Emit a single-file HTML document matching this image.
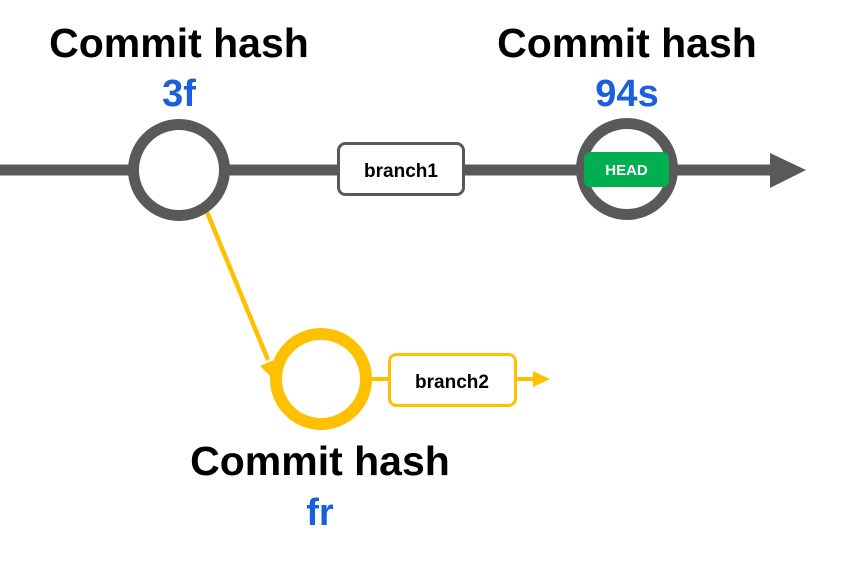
<!DOCTYPE html>
<html><head><style>
html,body{margin:0;padding:0;background:#fff;}
svg{display:block;}
text{font-family:"Liberation Sans",Arial,sans-serif;font-weight:bold;text-anchor:middle;}
</style></head><body>
<svg width="846" height="561" viewBox="0 0 846 561" xmlns="http://www.w3.org/2000/svg">
<!-- main line -->
<line x1="0" y1="170" x2="775" y2="170" stroke="#595959" stroke-width="11"/>
<polygon points="770,153 806,170 770,188" fill="#595959"/>
<!-- yellow branch line -->
<line x1="207" y1="212" x2="268" y2="360" stroke="#ffc000" stroke-width="4.5"/>
<polygon points="260,366 274,360 272,378" fill="#ffc000"/>
<line x1="370" y1="379" x2="536" y2="379" stroke="#ffc000" stroke-width="4"/>
<polygon points="533,371 550,379 533,387" fill="#ffc000"/>
<!-- circles -->
<circle cx="179" cy="170" r="45.5" fill="#fff" stroke="#595959" stroke-width="11"/>
<circle cx="627" cy="169" r="45.5" fill="#fff" stroke="#595959" stroke-width="11"/>
<circle cx="321" cy="379" r="45" fill="#fff" stroke="#ffc000" stroke-width="12"/>
<!-- boxes -->
<rect x="338.5" y="143.5" width="125" height="51" rx="7" fill="#fff" stroke="#595959" stroke-width="3"/>
<text x="401" y="177" font-size="19">branch1</text>
<rect x="389.5" y="354.5" width="126" height="51" rx="7" fill="#fff" stroke="#ffc000" stroke-width="3"/>
<text x="452" y="388" font-size="19">branch2</text>
<rect x="584" y="152" width="85" height="35" rx="6" fill="#00b050"/>
<text x="626.5" y="175" font-size="15" fill="#fff">HEAD</text>
<!-- labels -->
<text x="179" y="57" font-size="41">Commit hash</text>
<text x="179" y="106" font-size="38" fill="#1a5fdb">3f</text>
<text x="627" y="57" font-size="41">Commit hash</text>
<text x="627" y="106" font-size="38" fill="#1a5fdb">94s</text>
<text x="320" y="475" font-size="41">Commit hash</text>
<text x="320" y="525" font-size="38" fill="#1a5fdb">fr</text>
</svg>
</body></html>
